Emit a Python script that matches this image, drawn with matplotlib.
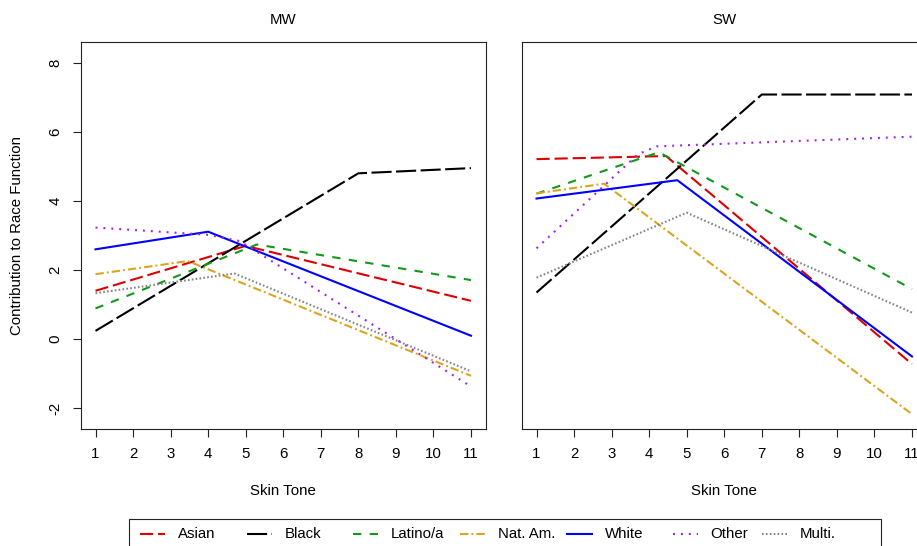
import matplotlib
matplotlib.use('Agg')
import matplotlib.pyplot as plt
from matplotlib.lines import Line2D
from matplotlib.patches import Rectangle

plt.rcParams['font.family'] = ['Liberation Sans', 'DejaVu Sans']
plt.rcParams['font.size'] = 10.8
plt.rcParams['lines.scale_dashes'] = False

groups = ['Asian', 'Black', 'Latino/a', 'Nat. Am.', 'White', 'Other', 'Multi.']
colors = ['#dd0000', '#000000', '#119a1a', '#daa520', '#0000ff', '#a020f0', '#858585']
dashes = [(9.5, 3.5), (14.5, 3.2), (6, 6), (6, 2.2, 1.4, 2.2), None, (1.4, 4.3), (1.2, 1.6)]

x_ticks = list(range(1, 12))
y_ticks = [-2, 0, 2, 4, 6, 8]

# breakpoints: (skin tone, contribution)
mw_asian = ([1, 5.0, 11], [1.40, 2.70, 1.11])
mw_black = ([1, 8, 11], [0.24, 4.80, 4.95])
mw_latino = ([1, 5.3, 11], [0.89, 2.74, 1.71])
mw_natam = ([1, 3.46, 11], [1.88, 2.26, -1.06])
mw_white = ([1, 4, 11], [2.60, 3.11, 0.10])
mw_other = ([1, 4, 4.84, 11], [3.23, 3.02, 2.84, -1.37])
mw_multi = ([1, 4.7, 11], [1.33, 1.90, -0.93])

sw_asian = ([1, 4.45, 11], [5.21, 5.30, -0.72])
sw_black = ([1, 7, 11], [1.35, 7.08, 7.08])
sw_latino = ([1, 4.26, 11], [4.21, 5.41, 1.45])
sw_natam = ([1, 2.8, 11], [4.22, 4.50, -2.17])
sw_white = ([1, 4.75, 11], [4.07, 4.60, -0.50])
sw_other = ([1, 3.7, 4.2, 11], [2.63, 5.35, 5.58, 5.86])
sw_multi = ([1, 5.0, 11], [1.78, 3.66, 0.77])

mw = [mw_asian, mw_black, mw_latino, mw_natam, mw_white, mw_other, mw_multi]
sw = [sw_asian, sw_black, sw_latino, sw_natam, sw_white, sw_other, sw_multi]

W, H = 917, 546
fig = plt.figure(figsize=(W / 100, H / 100), dpi=100)


def box(l, t, r, b):
    return [l / W, 1 - b / H, (r - l) / W, (b - t) / H]


def draw(ax, series):
    for (xs, ys), c, d in zip(series, colors, dashes):
        if d is None:
            ax.plot(xs, ys, color=c, lw=1.5)
        else:
            ax.plot(xs, ys, color=c, lw=1.5, dashes=d)
    ax.set_xlim(0.6, 11.4)
    ax.set_ylim(-2.6, 8.6)
    ax.set_xticks(x_ticks)
    ax.tick_params(direction='out', length=6, width=0.8, colors='#222222', labelcolor='black')
    ax.tick_params(axis='x', pad=7)
    for s in ax.spines.values():
        s.set_linewidth(0.8)
        s.set_color('#222222')


ax1 = fig.add_axes(box(80.5, 42, 486, 429))
draw(ax1, mw)
ax1.set_yticks(y_ticks)
ax1.set_yticklabels([str(v) for v in y_ticks], rotation=90, va='center')
ax1.tick_params(axis='y', pad=7)

ax2 = fig.add_axes(box(521.5, 42, 927, 429))
draw(ax2, sw)
ax2.set_yticks([])

fig.text(283 / W, 1 - 20 / H, 'MW', ha='center', va='center')
fig.text(724 / W, 1 - 20 / H, 'SW', ha='center', va='center')
fig.text(283 / W, 1 - 491 / H, 'Skin Tone', ha='center', va='center')
fig.text(724 / W, 1 - 491 / H, 'Skin Tone', ha='center', va='center')
fig.text(17 / W, 1 - 235.5 / H, 'Contribution to Race Function', rotation=90,
         ha='center', va='center')

# horizontal legend along the bottom edge
fig.add_artist(Rectangle((128.6 / W, 1 - 560 / H), (881 - 128.6) / W, 41 / H,
                         transform=fig.transFigure, fill=False, lw=0.8, ec='#222222'))
leg_x = [140, 247, 353, 460, 567, 673, 762]
for x0, g, c, d in zip(leg_x, groups, colors, dashes):
    ln = Line2D([x0 / W, (x0 + 25) / W], [1 - 534 / H, 1 - 534 / H],
                transform=fig.transFigure, color=c, lw=1.5)
    if d is not None:
        ln.set_dashes(d)
    fig.add_artist(ln)
    fig.text((x0 + 37.5) / W, 1 - 534 / H, g, ha='left', va='center')

fig.savefig('out.png', dpi=100)
